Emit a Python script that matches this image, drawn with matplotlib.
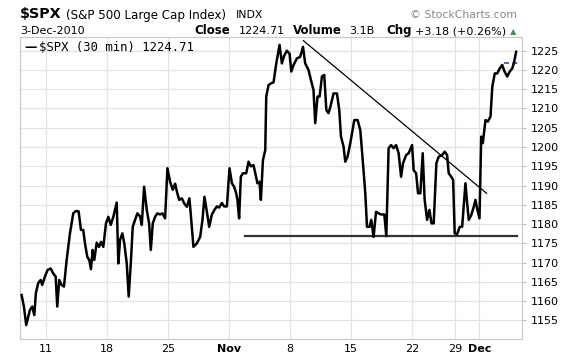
import matplotlib
matplotlib.use("Agg")
import matplotlib.pyplot as plt

# $SPX 30-min closes, x in trading days from 11-Oct-2010
days = [-1.97, -1.78, -1.59, -1.29, -1.10, -0.93, -0.80, -0.61, -0.41, -0.28,
        -0.06, 0.16, 0.41, 0.62, 0.82, 0.95, 1.11, 1.31, 1.50, 1.72,
        1.99, 2.26, 2.48, 2.70, 2.89, 3.08, 3.22, 3.41, 3.57, 3.71,
        3.85, 3.98, 4.18, 4.37, 4.53, 4.72, 4.94, 5.13, 5.33, 5.54,
        5.82, 5.95, 6.09, 6.28, 6.44, 6.64, 6.80, 6.97, 7.13, 7.32,
        7.51, 7.73, 7.87, 8.06, 8.28, 8.47, 8.61, 8.77, 8.96, 9.15,
        9.37, 9.56, 9.78, 9.97, 10.19, 10.41, 10.60, 10.74, 10.93, 11.15,
        11.36, 11.56, 11.77, 11.91, 12.10, 12.38, 12.65, 12.84, 13.00, 13.20,
        13.39, 13.61, 13.82, 14.02, 14.20, 14.43, 14.61, 14.84, 15.05, 15.25,
        15.43, 15.60, 15.70, 15.84, 15.98, 16.15, 16.42, 16.61, 16.80, 17.02,
        17.16, 17.34, 17.51, 17.62, 17.79, 17.98, 18.06, 18.25, 18.44, 18.66,
        18.88, 19.15, 19.34, 19.53, 19.75, 19.97, 20.11, 20.30, 20.57, 20.84,
        21.07, 21.25, 21.52, 21.72, 21.93, 22.07, 22.26, 22.43, 22.62, 22.81,
        22.98, 23.16, 23.30, 23.57, 23.85, 24.04, 24.18, 24.39, 24.53, 24.72,
        24.94, 25.27, 25.54, 25.76, 25.98, 26.17, 26.31, 26.52, 26.66, 26.85,
        27.05, 27.26, 27.46, 27.73, 27.89, 28.08, 28.28, 28.49, 28.69, 28.90,
        29.10, 29.26, 29.51, 29.72, 30.00, 30.13, 30.33, 30.49, 30.68, 30.87,
        31.03, 31.23, 31.42, 31.59, 31.77, 31.99, 32.18, 32.46, 32.67, 32.87,
        33.00, 33.20, 33.36, 33.49, 33.69, 33.90, 34.10, 34.37, 34.51, 34.64,
        34.84, 35.05, 35.19, 35.33, 35.52, 35.66, 35.79, 36.01, 36.20, 36.42,
        36.57, 36.77, 36.97, 37.18, 37.38, 37.57, 37.79, 38.00, 38.20, 38.33,
        38.52]
prices = [1161.6, 1158.6, 1153.8, 1157.7, 1158.6, 1156.4, 1162.1, 1164.7, 1165.5, 1164.2,
          1166.4, 1168.1, 1168.5, 1167.2, 1166.4, 1158.6, 1165.5, 1164.2, 1163.8, 1170.7,
          1177.6, 1182.8, 1183.4, 1183.3, 1178.5, 1178.5, 1175.0, 1171.5, 1170.7, 1168.3,
          1173.3, 1170.7, 1175.2, 1174.1, 1175.4, 1174.1, 1180.2, 1181.9, 1179.8, 1181.9,
          1185.6, 1169.8, 1175.9, 1177.6, 1175.0, 1169.8, 1161.2, 1169.8, 1179.3, 1181.1,
          1182.8, 1182.0, 1179.8, 1189.7, 1183.7, 1180.2, 1173.3, 1180.2, 1181.9, 1182.8,
          1182.5, 1182.8, 1181.5, 1194.5, 1191.0, 1188.9, 1190.5, 1188.5, 1186.3, 1186.7,
          1185.3, 1184.5, 1186.7, 1181.5, 1174.1, 1175.0, 1176.7, 1181.1, 1187.1, 1183.2,
          1179.3, 1182.5, 1183.7, 1184.6, 1184.3, 1185.5, 1184.6, 1184.6, 1194.5, 1190.6,
          1189.7, 1188.0, 1186.3, 1181.5, 1192.3, 1193.2, 1193.2, 1196.2, 1195.0, 1195.3,
          1193.2, 1190.6, 1191.0, 1186.3, 1196.6, 1199.2, 1213.1, 1216.1, 1216.5, 1216.8,
          1221.7, 1226.5, 1221.7, 1223.7, 1225.0, 1224.2, 1219.6, 1221.3, 1223.0, 1223.4,
          1226.0, 1221.7, 1220.0, 1217.4, 1214.8, 1206.2, 1213.1, 1213.1, 1218.3, 1218.7,
          1209.6, 1208.8, 1210.3, 1213.9, 1213.9, 1209.6, 1202.7, 1200.1, 1196.2, 1197.5,
          1201.0, 1207.0, 1207.0, 1204.4, 1195.8, 1188.0, 1179.3, 1179.3, 1181.1, 1176.7,
          1183.2, 1182.8, 1182.5, 1182.5, 1176.9, 1199.7, 1200.5, 1199.7, 1200.5, 1198.4,
          1192.3, 1195.8, 1197.9, 1198.4, 1200.5, 1194.0, 1193.2, 1188.0, 1188.0, 1198.4,
          1186.3, 1181.1, 1183.7, 1180.2, 1180.2, 1195.8, 1197.5, 1197.9, 1198.8, 1197.9,
          1193.2, 1192.3, 1191.5, 1177.6, 1177.4, 1179.3, 1179.3, 1190.6, 1185.4, 1181.1,
          1182.3, 1184.5, 1186.3, 1184.0, 1181.5, 1202.7, 1201.0, 1207.0, 1206.6, 1207.9,
          1215.7, 1219.1, 1219.1, 1220.4, 1221.3, 1219.6, 1218.3, 1219.6, 1220.4, 1221.7,
          1224.71]

# hand-drawn annotation lines
trend_x = [21.1, 36.1]
trend_y = [1227.6, 1188.0]
support_x = [16.3, 38.6]
support_y = [1177.0, 1177.0]
last_x = [37.5, 38.8]
last_y = [1221.9, 1221.9]

tick_pos = [0, 5, 10, 15, 20, 25, 30, 33.5, 35.5]
tick_labels = ["11", "18", "25", "Nov", "8", "15", "22", "29", "Dec"]
price_ticks = list(range(1155, 1230, 5))

fig = plt.figure(figsize=(5.76, 3.56), dpi=100)
W, H = 576, 356
ax = fig.add_axes([20 / W, (H - 338.6) / H, (522 - 20) / W, (338.6 - 37) / H])

ax.plot(days, prices, color="black", lw=1.8, solid_joinstyle="round", zorder=3)
ax.plot(trend_x, trend_y, color="black", lw=0.9, zorder=2)
ax.plot(support_x, support_y, color="#333333", lw=1.6, zorder=2)
ax.plot(last_x, last_y, color="#2f52d0", lw=1.2, ls=(0, (3, 2)), zorder=2)

ax.set_xlim(-2.1, 39.0)
ax.set_ylim(1150.3, 1228.55)
ax.set_xticks(tick_pos)
ax.set_xticklabels(tick_labels)
for lbl in ax.get_xticklabels():
    if lbl.get_text() in ("Nov", "Dec"):
        lbl.set_fontweight("bold")
ax.set_yticks(price_ticks)
ax.yaxis.tick_right()
ax.tick_params(axis="y", length=3, color="#bbbbbb", labelsize=8, pad=3)
ax.tick_params(axis="x", length=0, labelsize=8, pad=4)
ax.grid(True, color="#e3e3e3", lw=0.9)
ax.set_axisbelow(True)
for s in ax.spines.values():
    s.set_color("#c8c8c8")

# legend line inside plot
ax.text(0.008, 0.965, "\u2014", transform=ax.transAxes, fontsize=9, fontweight="bold",
        va="center", ha="left")
ax.text(0.038, 0.965, "$SPX (30 min) 1224.71", transform=ax.transAxes, fontsize=8.8,
        family="DejaVu Sans Mono", va="center", ha="left")

# header
def ftext(x, y, s, **kw):
    fig.text(x / W, 1 - y / H, s, va="baseline", ha="left", **kw)

ftext(20, 18.5, "$SPX", fontsize=10.3, fontweight="bold")
ftext(66, 18.5, "(S&P 500 Large Cap Index)", fontsize=8.6)
ftext(236, 18.5, "INDX", fontsize=7.8)
ftext(410, 18, "\u00a9 StockCharts.com", fontsize=7.8, color="#888888")
ftext(20, 34.3, "3-Dec-2010", fontsize=8)
ftext(194, 34.3, "Close", fontsize=8.5, fontweight="bold")
ftext(239, 34.3, "1224.71", fontsize=8)
ftext(293, 34.3, "Volume", fontsize=8.5, fontweight="bold")
ftext(349, 34.3, "3.1B", fontsize=8)
ftext(386, 34.3, "Chg", fontsize=8.5, fontweight="bold")
ftext(415, 34.3, "+3.18 (+0.26%)", fontsize=8)
ftext(510, 34.3, "\u25b2", fontsize=6, color="#2e9e3e")

fig.savefig("out.png", dpi=100)
